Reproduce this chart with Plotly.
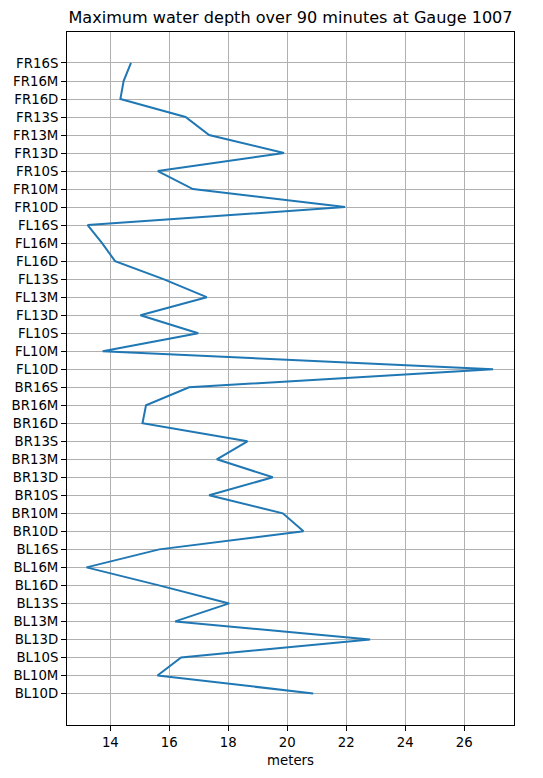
import plotly.graph_objects as go

categories = ["BL10D", "BL10M", "BL10S", "BL13D", "BL13M", "BL13S", "BL16D", "BL16M", "BL16S",
              "BR10D", "BR10M", "BR10S", "BR13D", "BR13M", "BR13S", "BR16D", "BR16M", "BR16S",
              "FL10D", "FL10M", "FL10S", "FL13D", "FL13M", "FL13S", "FL16D", "FL16M", "FL16S",
              "FR10D", "FR10M", "FR10S", "FR13D", "FR13M", "FR13S", "FR16D", "FR16M", "FR16S"]

depth_m = [20.88, 15.60, 16.40, 22.81, 16.20, 18.03, 15.65, 13.19, 15.66,
           20.55, 19.85, 17.35, 19.51, 17.61, 18.65, 15.09, 15.21, 16.67,
           26.98, 13.74, 16.98, 15.02, 17.27, 15.80, 14.16, 13.72, 13.23,
           21.96, 16.80, 15.61, 19.89, 17.35, 16.55, 14.34, 14.45, 14.70]

x_ticks = [14, 16, 18, 20, 22, 24, 26]

fig = go.Figure(go.Scatter(
    x=depth_m, y=categories, mode="lines",
    line=dict(color="#1f77b4", width=2.0),
))

# page body has an 8px default margin; figure is sized to fit the window
fig.update_layout(
    width=535, height=770,
    margin=dict(l=59, r=29, t=24, b=53),
    paper_bgcolor="white", plot_bgcolor="white",
    font=dict(family="DejaVu Sans", size=13.3, color="black"),
    showlegend=False,
    title=dict(text="Maximum water depth over 90 minutes at Gauge 1007",
               x=0.5, xref="paper", xanchor="center",
               y=1 - 9.5 / 770, yref="container", yanchor="middle",
               font=dict(size=16.1, color="black")),
)

fig.update_xaxes(
    range=[12.53, 27.69], tickvals=x_ticks, ticktext=[str(v) for v in x_ticks],
    showgrid=True, gridcolor="#b0b0b0", gridwidth=1,
    showline=True, linecolor="black", linewidth=1, mirror=True,
    ticks="outside", ticklen=5, tickcolor="black", tickwidth=1,
    zeroline=False, automargin=False,
    title=dict(text="meters", standoff=6, font=dict(size=13.3)),
)

fig.update_yaxes(
    type="category", categoryorder="array", categoryarray=categories,
    range=[-1.75, 36.72],
    showgrid=True, gridcolor="#b0b0b0", gridwidth=1,
    showline=True, linecolor="black", linewidth=1, mirror=True,
    ticks="outside", ticklen=5, tickcolor="black", tickwidth=1,
    zeroline=False, automargin=False,
)

fig.write_html("out.html")
